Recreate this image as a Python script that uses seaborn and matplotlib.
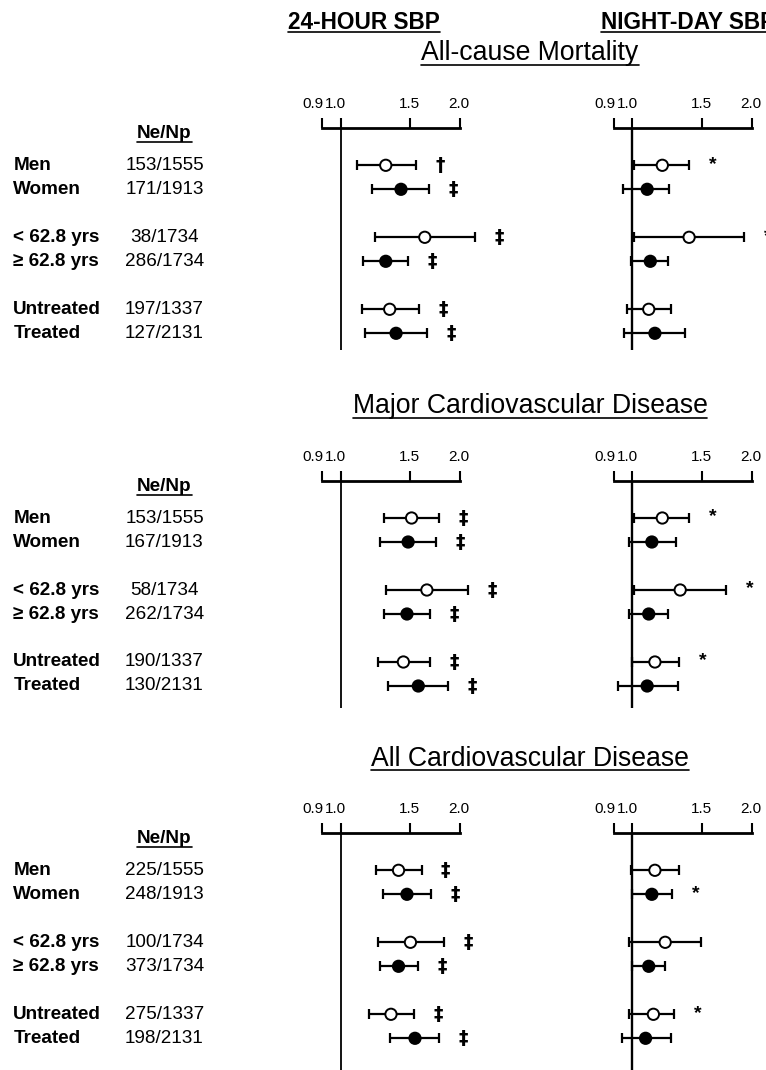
import numpy as np
import pandas as pd
import matplotlib
matplotlib.use("Agg")
import matplotlib.pyplot as plt
import seaborn as sns
from matplotlib.lines import Line2D
from matplotlib.transforms import blended_transform_factory
from matplotlib.ticker import FixedLocator, NullLocator, NullFormatter

# ---------------- data ----------------
subgroups = ["Men", "Women", "< 62.8 yrs", "\u2265 62.8 yrs", "Untreated", "Treated"]
fills = ["open", "filled", "open", "filled", "open", "filled"]
outcomes = ["All-cause Mortality", "Major Cardiovascular Disease", "All Cardiovascular Disease"]
panel_titles = ["24-HOUR SBP", "NIGHT-DAY SBP"]
tick_values = [0.9, 1.0, 1.5, 2.0]
tick_labels = ["0.9", "1.0", "1.5", "2.0"]

counts_acm = ["153/1555", "171/1913", "38/1734", "286/1734", "197/1337", "127/2131"]
counts_mcvd = ["153/1555", "167/1913", "58/1734", "262/1734", "190/1337", "130/2131"]
counts_acvd = ["225/1555", "248/1913", "100/1734", "373/1734", "275/1337", "198/2131"]

# All-cause mortality, 24-hour SBP
acm_24h_hr = [1.30, 1.42, 1.63, 1.30, 1.33, 1.38]
acm_24h_lo = [1.10, 1.20, 1.22, 1.14, 1.13, 1.15]
acm_24h_hi = [1.55, 1.67, 2.18, 1.48, 1.58, 1.65]
acm_24h_sig = ["\u2020", "\u2021", "\u2021", "\u2021", "\u2021", "\u2021"]
# All-cause mortality, night-day SBP
acm_nd_hr = [1.19, 1.09, 1.39, 1.11, 1.10, 1.14]
acm_nd_lo = [1.01, 0.95, 1.01, 0.99, 0.97, 0.955]
acm_nd_hi = [1.39, 1.24, 1.91, 1.23, 1.25, 1.36]
acm_nd_sig = ["*", "", "*", "", "", ""]

# Major CVD, 24-hour SBP
mcvd_24h_hr = [1.51, 1.48, 1.65, 1.47, 1.44, 1.57]
mcvd_24h_lo = [1.29, 1.26, 1.30, 1.29, 1.24, 1.32]
mcvd_24h_hi = [1.77, 1.74, 2.10, 1.68, 1.68, 1.87]
mcvd_24h_sig = ["\u2021"] * 6
# Major CVD, night-day SBP
mcvd_nd_hr = [1.19, 1.12, 1.32, 1.10, 1.14, 1.09]
mcvd_nd_lo = [1.01, 0.98, 1.01, 0.98, 1.00, 0.92]
mcvd_nd_hi = [1.39, 1.29, 1.72, 1.23, 1.31, 1.30]
mcvd_nd_sig = ["*", "", "*", "", "*", ""]

# All CVD, 24-hour SBP
acvd_24h_hr = [1.40, 1.47, 1.50, 1.40, 1.34, 1.54]
acvd_24h_lo = [1.23, 1.28, 1.24, 1.26, 1.18, 1.33]
acvd_24h_hi = [1.60, 1.69, 1.82, 1.57, 1.53, 1.77]
acvd_24h_sig = ["\u2021"] * 6
# All CVD, night-day SBP
acvd_nd_hr = [1.14, 1.12, 1.21, 1.10, 1.13, 1.08]
acvd_nd_lo = [0.99, 1.00, 0.98, 1.00, 0.98, 0.94]
acvd_nd_hi = [1.31, 1.26, 1.49, 1.21, 1.27, 1.25]
acvd_nd_sig = ["", "*", "", "", "*", ""]

sections = [
    (outcomes[0], counts_acm,
     [(acm_24h_lo, acm_24h_hr, acm_24h_hi, acm_24h_sig),
      (acm_nd_lo, acm_nd_hr, acm_nd_hi, acm_nd_sig)]),
    (outcomes[1], counts_mcvd,
     [(mcvd_24h_lo, mcvd_24h_hr, mcvd_24h_hi, mcvd_24h_sig),
      (mcvd_nd_lo, mcvd_nd_hr, mcvd_nd_hi, mcvd_nd_sig)]),
    (outcomes[2], counts_acvd,
     [(acvd_24h_lo, acvd_24h_hr, acvd_24h_hi, acvd_24h_sig),
      (acvd_nd_lo, acvd_nd_hr, acvd_nd_hi, acvd_nd_sig)]),
]

# ---------------- style / layout ----------------
sns.set_theme(style="white")
plt.rcParams["font.family"] = ["Liberation Sans", "DejaVu Sans"]
plt.rcParams["text.color"] = "black"
plt.rcParams["axes.labelcolor"] = "black"
plt.rcParams["xtick.color"] = "black"

W, H = 766, 1070
fig = plt.figure(figsize=(W / 100, H / 100), dpi=100)
fig.patch.set_facecolor("white")

# row positions: pairs one unit apart, a blank unit between pairs
row_pos = [0, 1, 3, 4, 6, 7]
UNIT = 24.0          # pixels per row unit
FIRST = 37.0         # px from axis line to first row
XMIN, XMAX = 0.8, 2.5
PX_PER_LN = 172.5
ONE_PX = [340.5, 632.3]   # pixel x of HR = 1.0 in each panel
AXIS_Y = [128.3, 481.0, 833.3]
BOTTOM_IDX = [7.7, 7.9, 9.6]
LBL_FS = 13.6

underlined = []


def add_px_axes(L, T, R, B):
    return fig.add_axes([L / W, 1 - B / H, (R - L) / W, (B - T) / H])


def ftext(xpx, ypx, s, **kw):
    return fig.text(xpx / W, 1 - ypx / H, s, **kw)


# column headers
underlined.append((ftext(364, 29.3, panel_titles[0], ha="center", va="baseline",
                         fontsize=16.3, fontweight="bold"), 3.0))
underlined.append((ftext(601, 29.3, panel_titles[1], ha="left", va="baseline",
                         fontsize=16.3, fontweight="bold"), 3.0))

for s_idx, (title, counts, panels) in enumerate(sections):
    ay = AXIS_Y[s_idx]
    yb = BOTTOM_IDX[s_idx]
    top_idx = -FIRST / UNIT
    bottom_px = ay + FIRST + UNIT * yb

    underlined.append((ftext(530, ay - 67.8, title, ha="center", va="baseline",
                             fontsize=19.2), 4.5))
    underlined.append((ftext(164.5, ay + 10.0, "Ne/Np", ha="center", va="baseline",
                             fontsize=LBL_FS, fontweight="bold"), 4.0))

    for p_idx, (lo, hr, hi, sig) in enumerate(panels):
        c = ONE_PX[p_idx]
        L = c + PX_PER_LN * np.log(XMIN)
        R = c + PX_PER_LN * np.log(XMAX)
        ax = add_px_axes(L, ay, R, bottom_px)
        ax.set_facecolor("none")
        ax.set_xscale("log")

        df = pd.DataFrame({"subgroup": subgroups, "pos": row_pos, "lo": lo,
                           "hr": hr, "hi": hi, "fill": fills, "sig": sig})

        eb = ax.errorbar(df["hr"], df["pos"],
                         xerr=[df["hr"] - df["lo"], df["hi"] - df["hr"]],
                         fmt="none", ecolor="black", elinewidth=1.6,
                         capsize=3.3, capthick=1.6, zorder=3)
        for art in eb.get_children():
            art.set_clip_on(False)

        sns.scatterplot(data=df, x="hr", y="pos", hue="fill",
                        palette={"open": "white", "filled": "black"},
                        edgecolor="black", linewidth=1.4, s=66,
                        legend=False, ax=ax, zorder=4, clip_on=False)

        for _, r in df.iterrows():
            if r["sig"]:
                is_star = r["sig"] == "*"
                ax.annotate(r["sig"], xy=(r["hi"], r["pos"]),
                            xytext=(24, 1 if is_star else 0),
                            textcoords="offset pixels", ha="center", va="center",
                            fontsize=14 if is_star else 13.5,
                            fontweight="bold",
                            family=["Liberation Sans"] if is_star else ["DejaVu Sans"],
                            annotation_clip=False)

        ax.axvline(1.0, color="black", lw=1.3 if p_idx == 0 else 1.7, zorder=2)

        ax.set_xlim(XMIN, XMAX)
        ax.set_ylim(yb, top_idx)
        ax.set_xlabel("")
        ax.set_ylabel("")
        ax.set_yticks([])
        ax.xaxis.set_major_locator(FixedLocator(tick_values))
        ax.xaxis.set_minor_locator(NullLocator())
        ax.xaxis.set_major_formatter(NullFormatter())
        ax.xaxis.set_minor_formatter(NullFormatter())
        ax.tick_params(axis="x", which="major", top=True, bottom=False,
                       labeltop=False, labelbottom=False, direction="out",
                       length=7.2, width=1.5, color="black")
        for sp in ["left", "right", "bottom"]:
            ax.spines[sp].set_visible(False)
        ax.spines["top"].set_bounds(tick_values[0], tick_values[-1])
        ax.spines["top"].set_linewidth(2.0)
        ax.spines["top"].set_color("black")

        label_dx = [-9, -5, -1, -1]
        for tv, tl, dx in zip(tick_values, tick_labels, label_dx):
            ax.annotate(tl, xy=(tv, 1.0), xycoords=("data", "axes fraction"),
                        xytext=(dx, 24), textcoords="offset pixels",
                        ha="center", va="center", fontsize=11,
                        annotation_clip=False)

        if p_idx == 0:
            tr = blended_transform_factory(fig.transFigure, ax.transData)
            for name, cnt, pos in zip(subgroups, counts, row_pos):
                ax.text(13.3 / W, pos, name, transform=tr, ha="left", va="center",
                        fontsize=LBL_FS, fontweight="bold", clip_on=False)
                ax.text(164.5 / W, pos, cnt, transform=tr, ha="center", va="center",
                        fontsize=LBL_FS, clip_on=False)

# underlines
fig.canvas.draw()
renderer = fig.canvas.get_renderer()
for txt, off in underlined:
    bb = txt.get_window_extent(renderer)
    x0, y0 = txt.get_transform().transform(txt.get_position())
    y = y0 - off
    fig.add_artist(Line2D([bb.x0 / W, bb.x1 / W], [y / H, y / H],
                          transform=fig.transFigure, color="black", lw=1.2))

fig.savefig("out.png", dpi=100)
